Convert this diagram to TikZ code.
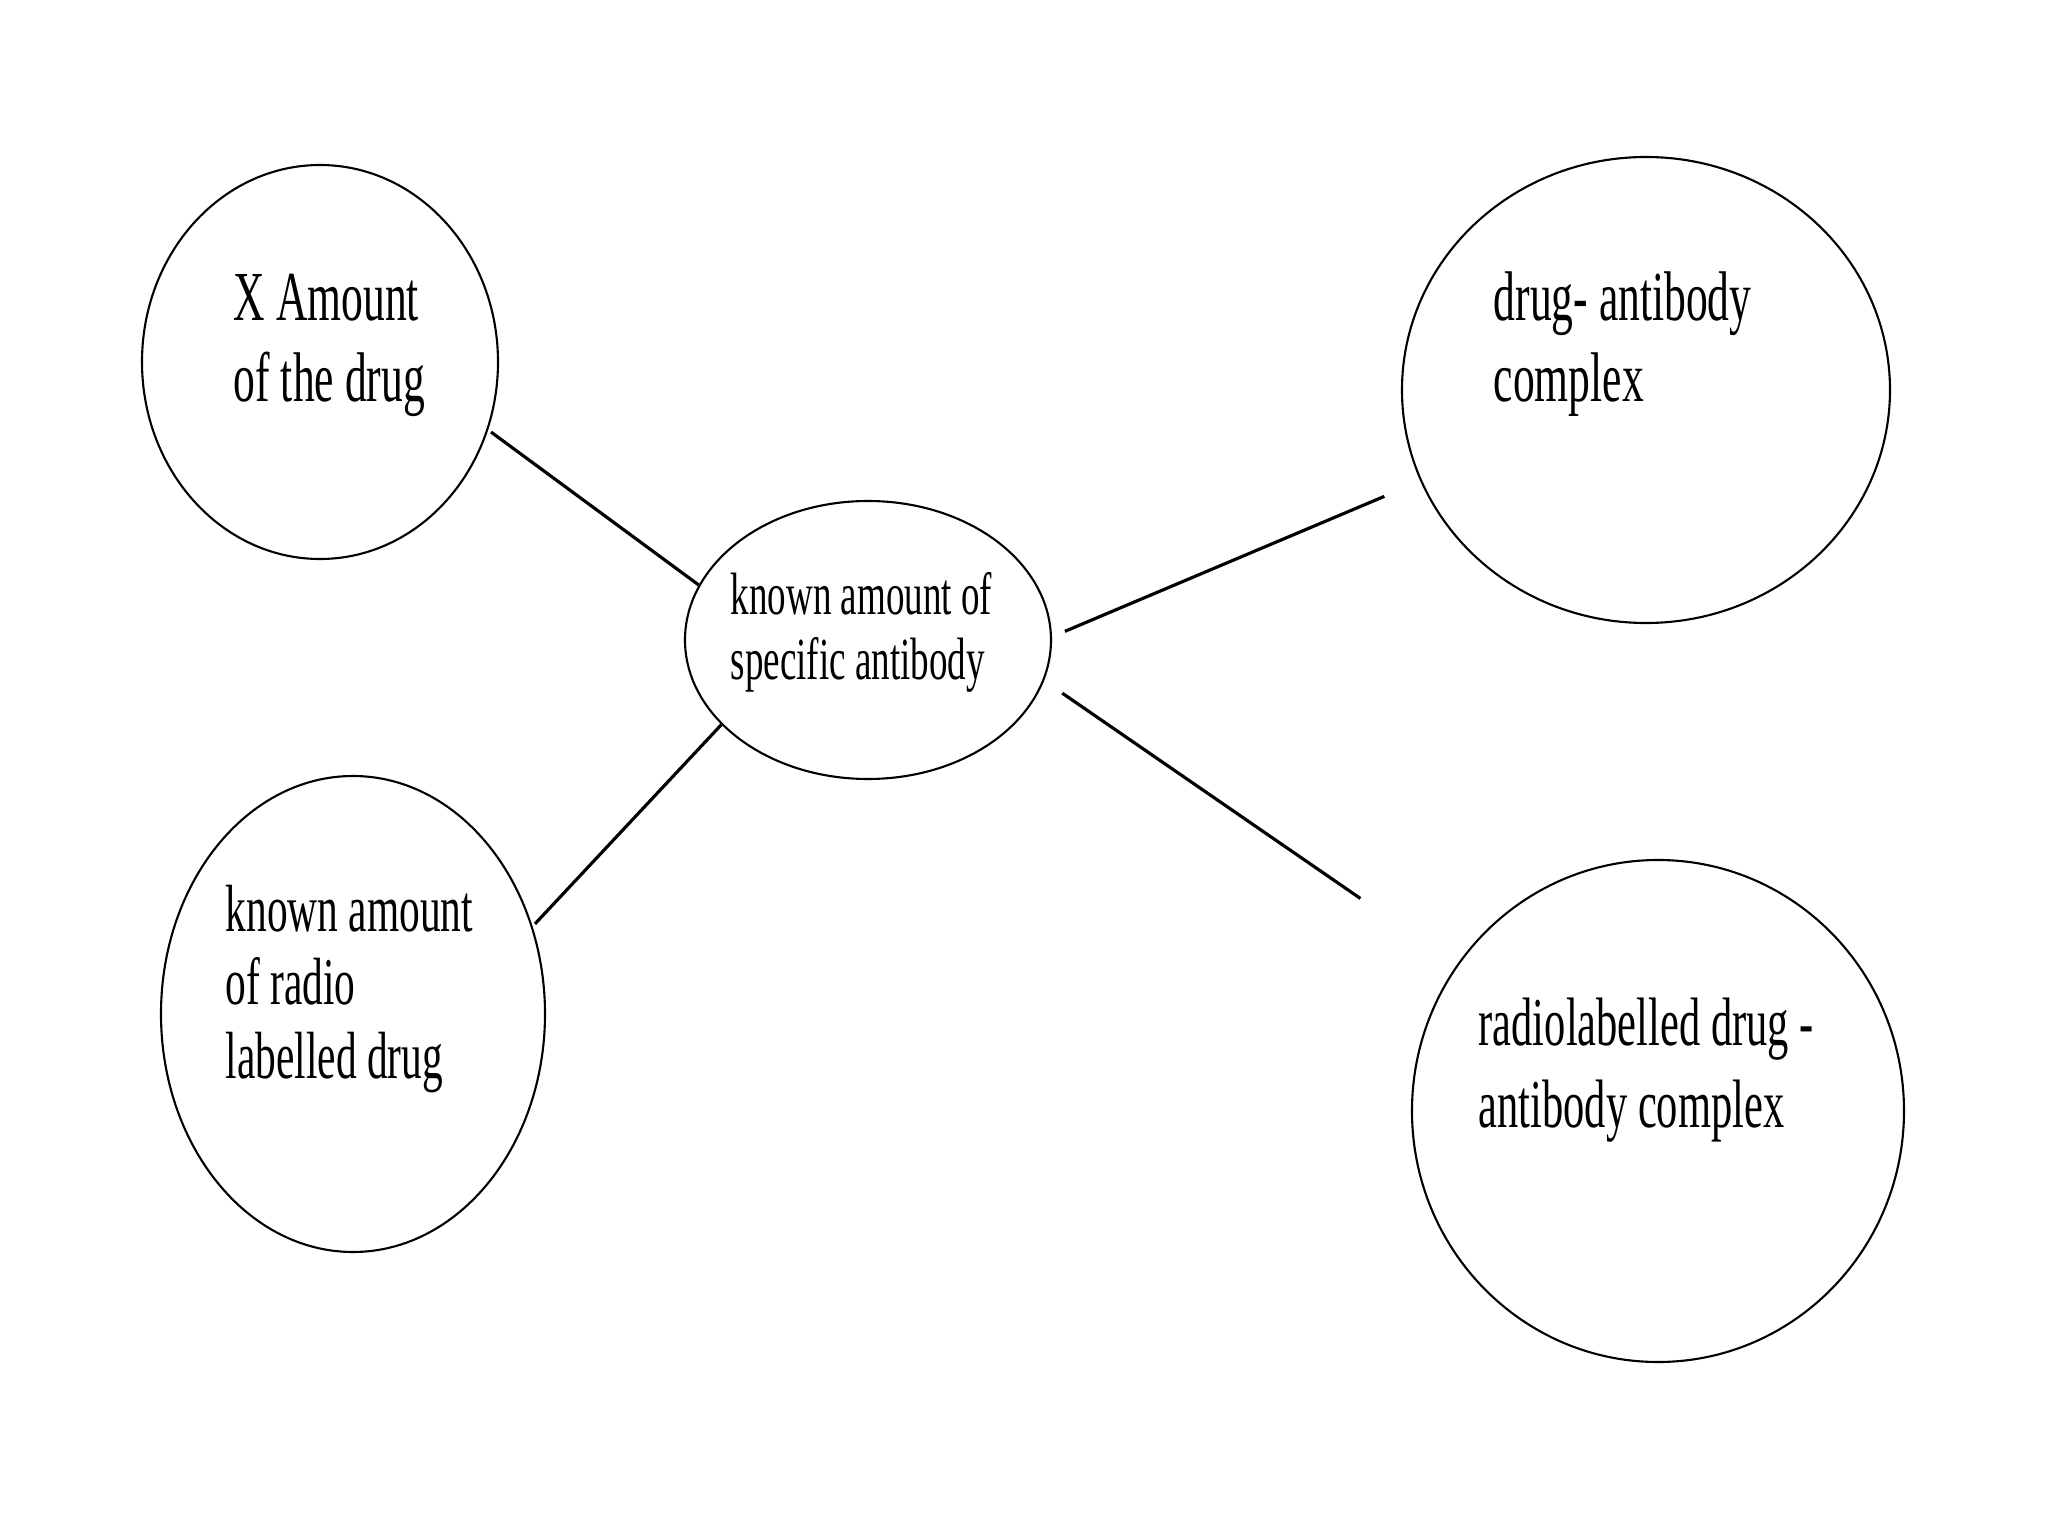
\documentclass[tikz,border=0pt]{standalone}
\usepackage{fontspec}
\setmainfont{Liberation Serif}[FakeStretch=0.62]
\usetikzlibrary{shapes.geometric}

\begin{document}
\begin{tikzpicture}[
    bubble/.style={draw, ellipse, line width=0.6pt, inner sep=0pt},
    tag/.style={anchor=base west, inner sep=0pt, align=left},
    link/.style={line width=0.9pt}
  ]
    \useasboundingbox (0,0) rectangle (20.48,-15.36);

    % Reagents on the left
    \node[bubble, minimum width=3.56cm, minimum height=3.94cm] (drug) at (3.20,-3.62) {};
    \node[tag, font=\fontsize{20}{23.3}\selectfont] (drugtxt) at (2.33,-4.02) {X Amount\\of the drug};
    \node[bubble, minimum width=3.84cm, minimum height=4.76cm] (radio) at (3.53,-10.14) {};
    \node[tag, font=\fontsize{19}{20.8}\selectfont] (radiotxt) at (2.25,-10.78) {known amount\\of radio\\labelled drug};

    % Antibody in the middle
    \node[bubble, minimum width=3.66cm, minimum height=2.78cm] (ab) at (8.68,-6.40) {};
    \node[tag, font=\fontsize{17}{18.5}\selectfont] (abtxt) at (7.30,-6.80) {known amount of\\specific antibody};

    % Complexes on the right
    \node[bubble, minimum width=4.88cm, minimum height=4.66cm] (cplx) at (16.46,-3.90) {};
    \node[tag, font=\fontsize{20}{23.3}\selectfont] (cplxtxt) at (14.93,-4.02) {drug- antibody\\complex};
    \node[bubble, minimum width=4.92cm, minimum height=5.02cm] (rcplx) at (16.58,-11.11) {};
    \node[tag, font=\fontsize{19.5}{23.3}\selectfont] (rcplxtxt) at (14.78,-11.27) {radiolabelled drug -\\antibody complex};

    % Connecting lines
    \draw[link, shorten <=1pt] (drug.-22) -- (ab.162);
    \draw[link, shorten <=1pt] (radio.26) -- (ab.210);
    \draw[link, shorten <=0.14cm, shorten >=0.39cm] (ab.1) -- (cplx.202);
    \draw[link, shorten <=0.22cm, shorten >=1.17cm] (ab.-13) -- (rcplx.144);
\end{tikzpicture}
\end{document}
